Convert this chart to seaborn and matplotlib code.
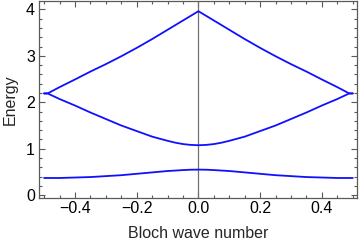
import matplotlib
matplotlib.use("Agg")
import matplotlib.pyplot as plt
import seaborn as sns
import pandas as pd
from matplotlib.ticker import MultipleLocator

# Bloch wave number samples
k = [-0.5, -0.487, -0.45, -0.4, -0.35, -0.3, -0.25, -0.2, -0.15, -0.1, -0.075, -0.05, -0.025, 0.0,
     0.025, 0.05, 0.075, 0.1, 0.15, 0.2, 0.25, 0.3, 0.35, 0.4, 0.45, 0.487, 0.5]

band1 = [0.37, 0.37, 0.37, 0.38, 0.39, 0.41, 0.43, 0.46, 0.49, 0.52, 0.53, 0.54, 0.548, 0.55,
         0.548, 0.54, 0.53, 0.52, 0.49, 0.46, 0.43, 0.41, 0.39, 0.38, 0.37, 0.37, 0.37]
band2 = [2.19, 2.185, 2.07, 1.93, 1.78, 1.64, 1.50, 1.38, 1.26, 1.17, 1.13, 1.10, 1.082, 1.075,
         1.082, 1.10, 1.13, 1.17, 1.26, 1.38, 1.50, 1.64, 1.78, 1.93, 2.07, 2.185, 2.19]
band3 = [2.19, 2.195, 2.325, 2.49, 2.66, 2.82, 2.99, 3.17, 3.36, 3.56, 3.66, 3.76, 3.86, 3.96,
         3.86, 3.76, 3.66, 3.56, 3.36, 3.17, 2.99, 2.82, 2.66, 2.49, 2.325, 2.195, 2.19]

x_ticks = [-0.4, -0.2, 0.0, 0.2, 0.4]
x_tick_labels = ["\u22120.4", "\u22120.2", "0.0", "0.2", "0.4"]
y_ticks = [0, 1, 2, 3, 4]

sns.set_style("ticks")
plt.rcParams['font.family'] = ['Liberation Sans', 'DejaVu Sans']

fig = plt.figure(figsize=(3.6, 2.45), dpi=100)
ax = fig.add_axes([0.107, 0.192, 0.885, 0.804])

ax.axvline(0, color="#707070", lw=0.9, zorder=1)

for band in (band1, band2, band3):
    df = pd.DataFrame({"k": k, "E": band})
    sns.lineplot(data=df, x="k", y="E", ax=ax, color="#1010ff", lw=1.3,
                 sort=False, estimator=None, zorder=2)

ax.set_xlim(-0.518, 0.514)
ax.set_ylim(-0.06, 4.18)

ax.set_xticks(x_ticks)
ax.set_xticklabels(x_tick_labels)
ax.set_yticks(y_ticks)
ax.xaxis.set_minor_locator(MultipleLocator(0.05))
ax.yaxis.set_minor_locator(MultipleLocator(0.2))

frame = "#5a5a5a"
for s in ax.spines.values():
    s.set_color(frame)
    s.set_linewidth(0.9)
    s.set_visible(True)
ax.tick_params(which="both", direction="in", top=True, right=True, color=frame,
               width=0.8, labelsize=11.5, labelcolor="black", pad=2.5)
ax.tick_params(which="major", length=4)
ax.tick_params(which="minor", length=2.2)

ax.set_xlabel("Bloch wave number", fontsize=11.5, labelpad=7)
ax.set_ylabel("Energy", fontsize=11.5, labelpad=6)

fig.savefig("out.png", dpi=100)
